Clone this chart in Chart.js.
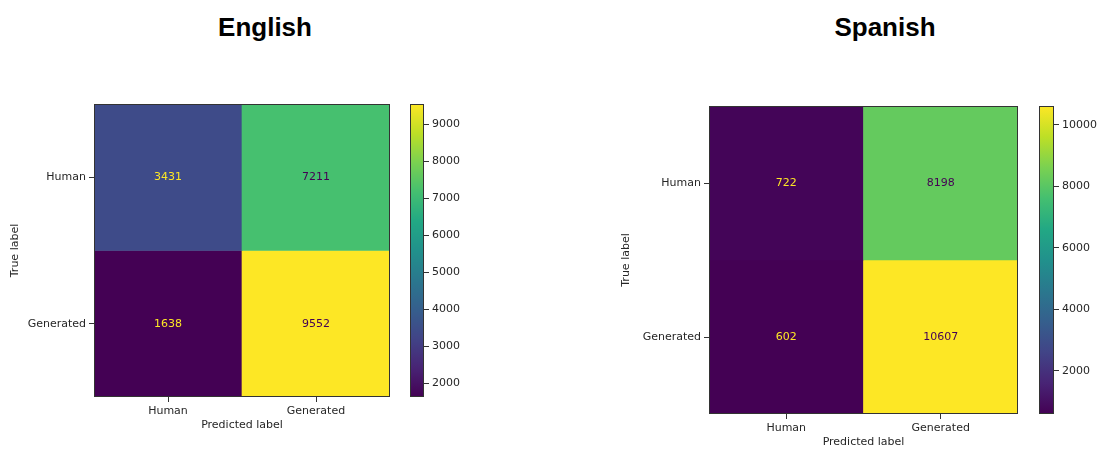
<!DOCTYPE html>
<html>
<head>
<meta charset="utf-8">
<script src="https://cdn.jsdelivr.net/npm/chart.js@4.4.1/dist/chart.umd.min.js"></script>
<style>
  html, body { margin: 0; padding: 0; background: #ffffff; }
  body { width: 1098px; height: 449px; position: relative; overflow: hidden; }
  canvas { position: absolute; top: 0; }
  .panel-title {
    position: absolute; top: 14px; line-height: 26px;
    font-family: "Liberation Sans", Arial, sans-serif; font-weight: bold; font-size: 26px;
    color: #000; transform: translateX(-50%); white-space: nowrap;
  }
</style>
</head>
<body>
<div class="panel-title" style="left:265px">English</div>
<div class="panel-title" style="left:885px">Spanish</div>
<canvas id="enMatrix" width="395" height="449" style="left:0px"></canvas>
<canvas id="enBar" width="70" height="449" style="left:405px"></canvas>
<canvas id="esMatrix" width="425" height="449" style="left:600px"></canvas>
<canvas id="esBar" width="64" height="449" style="left:1034px"></canvas>
<script>
// Class names on both axes
const predictedLabels = ["Human", "Generated"];
const trueLabels = ["Human", "Generated"];

// Confusion matrix counts, rows = true label, columns = predicted label
const englishCounts = [
  [3431, 7211],
  [1638, 9552]
];
const spanishCounts = [
  [722, 8198],
  [602, 10607]
];

// Colour bar tick values
const englishBarTicks = [2000, 3000, 4000, 5000, 6000, 7000, 8000, 9000];
const spanishBarTicks = [2000, 4000, 6000, 8000, 10000];

// Viridis colour map stops
const VIRIDIS = ["#440154", "#482475", "#414487", "#355f8d", "#2a788e",
                 "#21918c", "#22a884", "#44bf70", "#7ad151", "#bddf26", "#fde725"];

function hexToRgb(h) {
  return [parseInt(h.slice(1, 3), 16), parseInt(h.slice(3, 5), 16), parseInt(h.slice(5, 7), 16)];
}
function viridis(t) {
  t = Math.max(0, Math.min(1, t));
  const pos = t * (VIRIDIS.length - 1);
  const i = Math.min(Math.floor(pos), VIRIDIS.length - 2);
  const f = pos - i;
  const a = hexToRgb(VIRIDIS[i]), b = hexToRgb(VIRIDIS[i + 1]);
  const c = a.map((v, k) => Math.round(v + (b[k] - v) * f));
  return `rgb(${c[0]},${c[1]},${c[2]})`;
}

Chart.defaults.font.family = "'DejaVu Sans', sans-serif";
Chart.defaults.font.size = 11;
Chart.defaults.color = "#262626";

const TEXT_COLOR = "#262626";
const SPINE_COLOR = "#333333";

// Frame around the plotting area
const framePlugin = {
  id: "frame",
  afterDatasetsDraw(chart) {
    const { ctx, chartArea: a } = chart;
    ctx.save();
    ctx.strokeStyle = SPINE_COLOR;
    ctx.lineWidth = 1;
    ctx.strokeRect(Math.round(a.left) + 0.5, Math.round(a.top) + 0.5,
                   Math.round(a.right - a.left) - 1, Math.round(a.bottom - a.top) - 1);
    ctx.restore();
  }
};

// Count written in the centre of each cell
const cellTextPlugin = {
  id: "cellText",
  afterDatasetsDraw(chart) {
    const { ctx } = chart;
    const lo = chart.options.plugins.cellText.min;
    const hi = chart.options.plugins.cellText.max;
    const thresh = (lo + hi) / 2;
    ctx.save();
    ctx.font = "11px 'DejaVu Sans', sans-serif";
    ctx.textAlign = "center";
    ctx.textBaseline = "middle";
    chart.data.datasets.forEach((ds, di) => {
      const meta = chart.getDatasetMeta(di);
      meta.data.forEach((el, ci) => {
        const v = ds.counts[ci];
        const p = el.getCenterPoint();
        ctx.fillStyle = v < thresh ? VIRIDIS[VIRIDIS.length - 1] : VIRIDIS[0];
        ctx.fillText(String(v), p.x, p.y);
      });
    });
    ctx.restore();
  }
};

function buildMatrix(canvasId, counts, geom) {
  const flat = counts.flat();
  const lo = Math.min(...flat), hi = Math.max(...flat);
  const datasets = counts.map((row, r) => ({
    data: row.map(() => [r, r + 1]),
    counts: row,
    backgroundColor: row.map(v => viridis((v - lo) / (hi - lo))),
    borderWidth: 0,
    grouped: false,
    categoryPercentage: 1,
    barPercentage: 1
  }));
  return new Chart(document.getElementById(canvasId), {
    type: "bar",
    data: { labels: predictedLabels, datasets },
    options: {
      responsive: false,
      animation: false,
      devicePixelRatio: 1,
      layout: { padding: { left: 0, top: geom.top, right: geom.right, bottom: 0 } },
      plugins: {
        legend: { display: false },
        tooltip: { enabled: false },
        cellText: { min: lo, max: hi }
      },
      scales: {
        x: {
          type: "category",
          grid: { offset: false, drawOnChartArea: false, drawTicks: true, tickLength: 5, tickColor: SPINE_COLOR },
          border: { display: false },
          ticks: { color: TEXT_COLOR, padding: 3, maxRotation: 0 },
          title: { display: true, text: "Predicted label", color: TEXT_COLOR, padding: { top: 0, bottom: geom.xTitlePad } },
          afterFit(scale) { scale.height = geom.xHeight; }
        },
        y: {
          type: "linear",
          min: 0,
          max: trueLabels.length,
          reverse: true,
          afterBuildTicks(scale) { scale.ticks = trueLabels.map((_, i) => ({ value: i + 0.5 })); },
          grid: { drawOnChartArea: false, drawTicks: true, tickLength: 5, tickColor: SPINE_COLOR },
          border: { display: false },
          ticks: {
            color: TEXT_COLOR, padding: 3,
            callback: v => trueLabels[Math.floor(v)]
          },
          title: { display: true, text: "True label", color: TEXT_COLOR, padding: { top: geom.yTitlePad, bottom: 0 } },
          afterFit(scale) { scale.width = geom.yWidth; }
        }
      }
    },
    plugins: [cellTextPlugin, framePlugin]
  });
}

function buildColorbar(canvasId, counts, ticks, geom) {
  const flat = counts.flat();
  const lo = Math.min(...flat), hi = Math.max(...flat);
  return new Chart(document.getElementById(canvasId), {
    type: "bar",
    data: {
      labels: [""],
      datasets: [{
        data: [[lo, hi]],
        borderWidth: 0,
        categoryPercentage: 1,
        barPercentage: 1,
        backgroundColor(ctx) {
          const chart = ctx.chart;
          const y = chart.scales.y;
          if (!chart.chartArea || !y) return VIRIDIS[0];
          const g = chart.ctx.createLinearGradient(0, y.getPixelForValue(lo), 0, y.getPixelForValue(hi));
          VIRIDIS.forEach((c, i) => g.addColorStop(i / (VIRIDIS.length - 1), c));
          return g;
        }
      }]
    },
    options: {
      responsive: false,
      animation: false,
      devicePixelRatio: 1,
      layout: { padding: { left: 5, top: geom.top, right: 0, bottom: geom.bottom } },
      plugins: { legend: { display: false }, tooltip: { enabled: false } },
      scales: {
        x: { display: false },
        y: {
          type: "linear",
          position: "right",
          min: lo,
          max: hi,
          afterBuildTicks(scale) { scale.ticks = ticks.map(v => ({ value: v })); },
          grid: { drawOnChartArea: false, drawTicks: true, tickLength: 5, tickColor: SPINE_COLOR },
          border: { display: false },
          ticks: { color: TEXT_COLOR, padding: 3, callback: v => String(v) },
          afterFit(scale) { scale.width = geom.yWidth; }
        }
      }
    },
    plugins: [framePlugin]
  });
}

buildMatrix("enMatrix", englishCounts, { top: 104, right: 5, xHeight: 52, xTitlePad: 17, yWidth: 94, yTitlePad: 9 });
buildColorbar("enBar", englishCounts, englishBarTicks, { top: 104, bottom: 52, yWidth: 51 });
buildMatrix("esMatrix", spanishCounts, { top: 106, right: 7, xHeight: 35, xTitlePad: 0, yWidth: 109, yTitlePad: 20 });
buildColorbar("esBar", spanishCounts, spanishBarTicks, { top: 106, bottom: 35, yWidth: 44 });
</script>
</body>
</html>
